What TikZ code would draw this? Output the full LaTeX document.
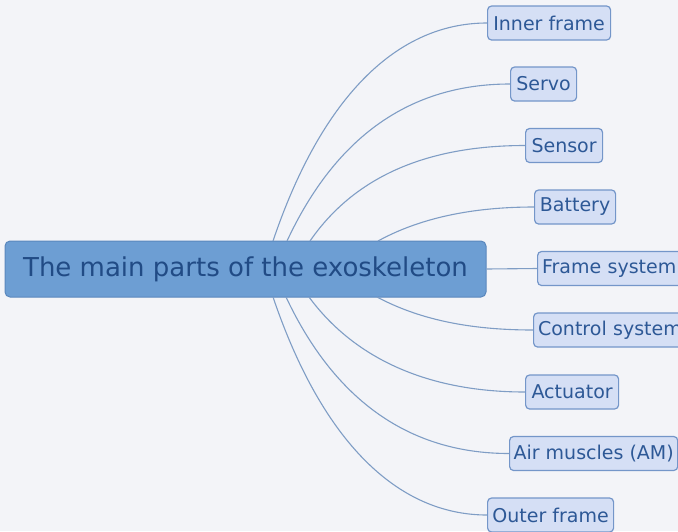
\documentclass[tikz,border=0pt]{standalone}
\usepackage{fontspec}
\setmainfont{DejaVu Sans}
\definecolor{bg}{HTML}{F3F4F8}
\definecolor{mainfill}{HTML}{6D9ED3}
\definecolor{mainline}{HTML}{5A87BD}
\definecolor{maintext}{HTML}{214B85}
\definecolor{subfill}{HTML}{D5DFF5}
\definecolor{subline}{HTML}{7496C9}
\definecolor{subtext}{HTML}{2D5896}
\definecolor{conn}{HTML}{7F9DC5}
\tikzset{
  mainbox/.style={draw=mainline, line width=1pt, fill=mainfill, rounded corners=5pt,
    text=maintext, font=\fontsize{26}{30}\selectfont, inner sep=0pt,
    minimum width=481pt, minimum height=56pt},
  subbox/.style={draw=subline, line width=1.2pt, fill=subfill, rounded corners=4pt,
    text=subtext, font=\fontsize{19}{22}\selectfont, inner xsep=4pt, inner ysep=0pt,
    minimum height=34pt, anchor=west},
  link/.style={draw=conn, line width=1.1pt}
}
\begin{document}
\begin{tikzpicture}[x=1pt, y=-1pt]
\fill[bg] (0,0) rectangle (678,531);
\useasboundingbox (0,0) rectangle (678,531);
\clip (0,0) rectangle (678,531);
\node[mainbox] (m) at (245.5,269) {The main parts of the exoskeleton};
\node[subbox, minimum width=123pt] (s1) at (487,23) {Inner frame};
\node[subbox, minimum width=66pt] (s2) at (510,84) {Servo};
\node[subbox, minimum width=77pt] (s3) at (525,145.5) {Sensor};
\node[subbox, minimum width=81pt] (s4) at (534,207) {Battery};
\node[subbox, minimum width=150pt, text width=141pt, align=left] (s5) at (537,268.5) {Frame system};
\node[subbox, minimum width=160pt, text width=151pt, align=left] (s6) at (533,330) {Control system};
\node[subbox, minimum width=93pt] (s7) at (525,392) {Actuator};
\node[subbox, minimum width=168pt] (s8) at (509,453.5) {Air muscles (AM)};
\node[subbox, minimum width=126pt] (s9) at (487,515) {Outer frame};
\coordinate (t1) at (273,241);
\coordinate (t2) at (287,241);
\coordinate (t3) at (310,241);
\coordinate (t4) at (378,241);
\coordinate (b1) at (273,297);
\coordinate (b2) at (286,297);
\coordinate (b3) at (309,297);
\coordinate (b4) at (377,297);
\draw[link] (t1) .. controls (322.3,95.3) and (398.0,23) .. (s1.west);
\draw[link] (t2) .. controls (335.7,136.7) and (410.0,84) .. (s2.west);
\draw[link] (t3) .. controls (354.0,177.3) and (425.7,145.5) .. (s3.west);
\draw[link] (t4) .. controls (419.3,218.3) and (471.3,207) .. (s4.west);
\draw[link] (m.east) -- (s5.west);
\draw[link] (b4) .. controls (418.3,319.0) and (468.3,330) .. (s6.west);
\draw[link] (b3) .. controls (353.0,356.7) and (425.0,392) .. (s7.west);
\draw[link] (b2) .. controls (335.0,401.0) and (410.0,453.5) .. (s8.west);
\draw[link] (b1) .. controls (322.3,442.3) and (398.0,515) .. (s9.west);
\end{tikzpicture}
\end{document}
